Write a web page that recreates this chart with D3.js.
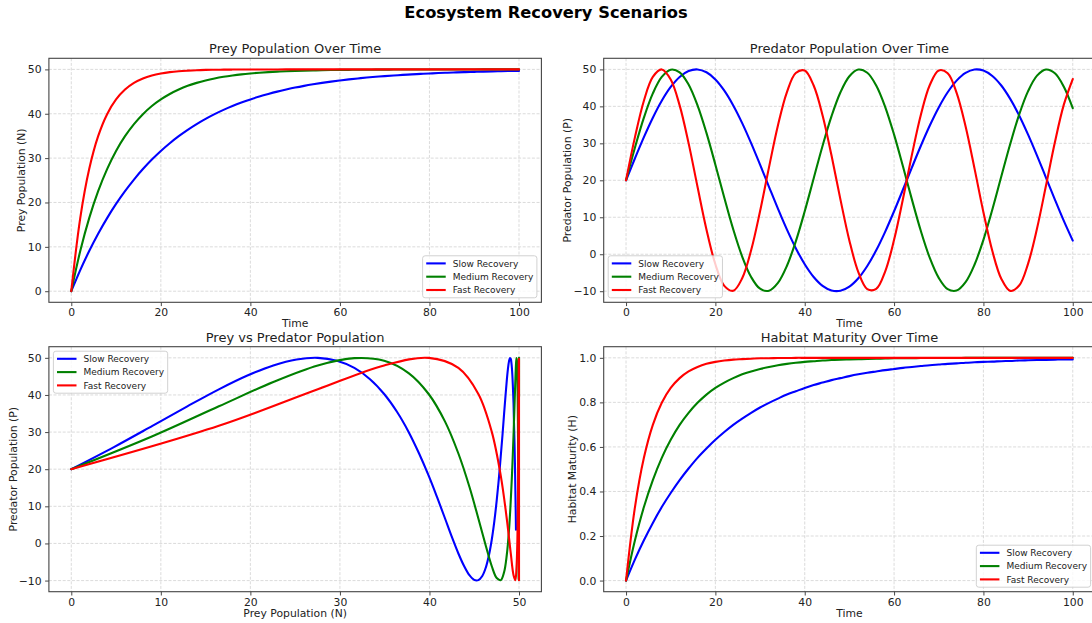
<!DOCTYPE html>
<html>
<head>
<meta charset="utf-8">
<script src="https://cdn.jsdelivr.net/npm/d3@7"></script>
<style>
  body { margin: 0; background: #ffffff; }
  svg { display: block; font-family: "DejaVu Sans", sans-serif; }
</style>
</head>
<body>
<svg id="chart" width="1092" height="623"></svg>
<script>
// ---- data -----------------------------------------------------------
const scenarios = ["Slow Recovery", "Medium Recovery", "Fast Recovery"];
const scenarioColors = ["#0000ff", "#008000", "#ff0000"];

const timeSteps = [0, 2, 4, 6, 8, 10, 12, 14, 16, 18, 20, 22, 24, 26, 28, 30, 32, 34, 36, 38, 40,
  42, 44, 46, 48, 50, 52, 54, 56, 58, 60, 62, 64, 66, 68, 70, 72, 74, 76, 78, 80,
  82, 84, 86, 88, 90, 92, 94, 96, 98, 100];

// prey population N
const preySlow = [0, 4.76, 9.06, 12.96, 16.48, 19.67, 22.56, 25.17, 27.53, 29.67, 31.61, 33.36, 34.94,
  36.37, 37.67, 38.84, 39.91, 40.87, 41.74, 42.52, 43.23, 43.88, 44.46, 44.99, 45.46, 45.90, 46.29,
  46.64, 46.96, 47.25, 47.51, 47.75, 47.96, 48.16, 48.33, 48.49, 48.63, 48.76, 48.88, 48.99, 49.08,
  49.17, 49.25, 49.32, 49.39, 49.44, 49.50, 49.55, 49.59, 49.63, 49.66];
const preyMedium = [0, 9.06, 16.48, 22.56, 27.53, 31.61, 34.94, 37.67, 39.91, 41.74, 43.23, 44.46, 45.46,
  46.29, 46.96, 47.51, 47.96, 48.33, 48.63, 48.88, 49.08, 49.25, 49.39, 49.50, 49.59, 49.66, 49.72,
  49.77, 49.82, 49.85, 49.88, 49.90, 49.92, 49.93, 49.94, 49.95, 49.96, 49.97, 49.98, 49.98, 49.98,
  49.99, 49.99, 49.99, 49.99, 49.99, 50.00, 50.00, 50.00, 50.00, 50.00];
const preyFast = [0, 16.48, 27.53, 34.94, 39.91, 43.23, 45.46, 46.96, 47.96, 48.63, 49.08, 49.39, 49.59,
  49.72, 49.82, 49.88, 49.92, 49.94, 49.96, 49.97, 49.98, 49.99, 49.99, 49.99, 50.00, 50.00, 50.00,
  50.00, 50.00, 50.00, 50.00, 50.00, 50.00, 50.00, 50.00, 50.00, 50.00, 50.00, 50.00, 50.00, 50.00,
  50.00, 50.00, 50.00, 50.00, 50.00, 50.00, 50.00, 50.00, 50.00, 50.00];

// predator population P
const predatorSlow = [20, 25.96, 31.68, 36.94, 41.52, 45.24, 47.96, 49.56, 49.99, 49.22, 47.28, 44.25,
  40.26, 35.47, 30.05, 24.23, 18.25, 12.33, 6.72, 1.64, -2.70, -6.15, -8.55, -9.81, -9.88, -8.77,
  -6.50, -3.18, 1.06, 6.06, 11.62, 17.51, 23.50, 29.35, 34.82, 39.71, 43.81, 46.96, 49.04, 49.96,
  49.68, 48.22, 45.64, 42.03, 37.55, 32.36, 26.69, 20.74, 14.77, 9.01, 3.68];
const predatorMedium = [20, 28.87, 36.94, 43.50, 47.96, 49.92, 49.22, 45.90, 40.26, 32.82, 24.23, 15.27,
  6.72, -0.63, -6.15, -9.33, -9.88, -7.77, -3.18, 3.48, 11.62, 20.50, 29.35, 37.35, 43.81, 48.14,
  49.96, 49.10, 45.64, 39.89, 32.36, 23.73, 14.77, 6.27, -1.00, -6.39, -9.44, -9.84, -7.57, -2.85,
  3.90, 12.10, 21.01, 29.81, 37.76, 44.11, 48.31, 49.98, 48.97, 45.32, 39.51];
const predatorFast = [20, 31.68, 41.52, 47.96, 49.99, 47.28, 40.26, 30.05, 18.25, 6.72, -2.70, -8.55,
  -9.88, -6.50, 1.06, 11.62, 23.50, 34.82, 43.81, 49.04, 49.68, 45.64, 37.55, 26.69, 14.77, 3.68,
  -4.83, -9.44, -9.38, -4.69, 3.90, 15.03, 26.94, 37.76, 45.77, 49.72, 48.97, 43.65, 34.59, 23.23,
  11.36, 0.86, -6.63, -9.91, -8.47, -2.53, 6.96, 18.51, 30.30, 40.46, 47.39];

// habitat maturity H
const habitatSlow = [0, 0.095, 0.181, 0.259, 0.330, 0.393, 0.451, 0.503, 0.551, 0.593, 0.632, 0.667,
  0.699, 0.727, 0.753, 0.777, 0.798, 0.817, 0.835, 0.850, 0.865, 0.878, 0.889, 0.900, 0.909, 0.918,
  0.926, 0.933, 0.939, 0.945, 0.950, 0.955, 0.959, 0.963, 0.967, 0.970, 0.973, 0.975, 0.978, 0.980,
  0.982, 0.983, 0.985, 0.986, 0.988, 0.989, 0.990, 0.991, 0.992, 0.993, 0.993];
const habitatMedium = [0, 0.181, 0.330, 0.451, 0.551, 0.632, 0.699, 0.753, 0.798, 0.835, 0.865, 0.889,
  0.909, 0.926, 0.939, 0.950, 0.959, 0.967, 0.973, 0.978, 0.982, 0.985, 0.988, 0.990, 0.992, 0.993,
  0.994, 0.995, 0.996, 0.997, 0.998, 0.998, 0.998, 0.999, 0.999, 0.999, 0.999, 0.999, 1.000, 1.000,
  1.000, 1.000, 1.000, 1.000, 1.000, 1.000, 1.000, 1.000, 1.000, 1.000, 1.000];
const habitatFast = [0, 0.330, 0.551, 0.699, 0.798, 0.865, 0.909, 0.939, 0.959, 0.973, 0.982, 0.988,
  0.992, 0.994, 0.996, 0.998, 0.998, 0.999, 0.999, 1.000, 1.000, 1.000, 1.000, 1.000, 1.000, 1.000,
  1.000, 1.000, 1.000, 1.000, 1.000, 1.000, 1.000, 1.000, 1.000, 1.000, 1.000, 1.000, 1.000, 1.000,
  1.000, 1.000, 1.000, 1.000, 1.000, 1.000, 1.000, 1.000, 1.000, 1.000, 1.000];

// tick labels
const timeTicks = [0, 20, 40, 60, 80, 100];
const preyTicks = [0, 10, 20, 30, 40, 50];
const predatorTicks = [-10, 0, 10, 20, 30, 40, 50];
const habitatTicks = [0.0, 0.2, 0.4, 0.6, 0.8, 1.0];

// ---- figure ---------------------------------------------------------
const prey = [preySlow, preyMedium, preyFast];
const predator = [predatorSlow, predatorMedium, predatorFast];
const habitat = [habitatSlow, habitatMedium, habitatFast];

const svg = d3.select("#chart");
const FONT_TICK = 10.8, FONT_LABEL = 10.8, FONT_TITLE = 13, FONT_LEGEND = 9;

svg.append("text")
  .attr("x", 546).attr("y", 17.5)
  .attr("text-anchor", "middle")
  .style("font-size", "16.3px").style("font-weight", "bold").attr("fill", "#000")
  .text("Ecosystem Recovery Scenarios");

const panels = [
  {
    box: { left: 48.9, top: 58.3, right: 541.4, bottom: 302.3 }, titleGap: 5.8,
    xDomain: [-5, 105], yDomain: [-2.5, 52.5],
    xTicks: timeTicks, yTicks: preyTicks, yFmt: d3.format("d"),
    title: "Prey Population Over Time", xLabel: "Time", yLabel: "Prey Population (N)", yLabelX: 21,
    legend: "lower right",
    series: scenarios.map((s, i) => ({ xs: timeSteps, ys: prey[i] }))
  },
  {
    box: { left: 603.7, top: 58.3, right: 1095.1, bottom: 302.3 }, titleGap: 5.8,
    xDomain: [-5, 105], yDomain: [-13, 53],
    xTicks: timeTicks, yTicks: predatorTicks, yFmt: d3.format("d"),
    title: "Predator Population Over Time", xLabel: "Time", yLabel: "Predator Population (P)", yLabelX: 567.6,
    legend: "lower left",
    series: scenarios.map((s, i) => ({ xs: timeSteps, ys: predator[i] }))
  },
  {
    box: { left: 48.9, top: 346.7, right: 541.4, bottom: 591.7 }, titleGap: 4.5,
    xDomain: [-2.5, 52.5], yDomain: [-13, 53],
    xTicks: preyTicks, yTicks: predatorTicks, yFmt: d3.format("d"),
    title: "Prey vs Predator Population", xLabel: "Prey Population (N)", yLabel: "Predator Population (P)", yLabelX: 13.5,
    legend: "upper left",
    series: scenarios.map((s, i) => ({ xs: prey[i], ys: predator[i] }))
  },
  {
    box: { left: 603.7, top: 346.7, right: 1095.1, bottom: 591.7 }, titleGap: 4.5,
    xDomain: [-5, 105], yDomain: [-0.05, 1.05],
    xTicks: timeTicks, yTicks: habitatTicks, yFmt: d3.format(".1f"),
    title: "Habitat Maturity Over Time", xLabel: "Time", yLabel: "Habitat Maturity (H)", yLabelX: 572.5,
    legend: "lower right",
    series: scenarios.map((s, i) => ({ xs: timeSteps, ys: habitat[i] }))
  }
];

const defs = svg.append("defs");

panels.forEach((p, pi) => {
  const b = p.box;
  const x = d3.scaleLinear().domain(p.xDomain).range([b.left, b.right]);
  const y = d3.scaleLinear().domain(p.yDomain).range([b.bottom, b.top]);
  const g = svg.append("g");

  defs.append("clipPath").attr("id", "clip" + pi)
    .append("rect").attr("x", b.left).attr("y", b.top)
    .attr("width", b.right - b.left).attr("height", b.bottom - b.top);

  // grid
  const grid = g.append("g").attr("stroke", "#c4c4c4").attr("stroke-width", 0.8)
    .attr("stroke-dasharray", "3,1.6").attr("opacity", 0.75);
  grid.selectAll(".gx").data(p.xTicks).join("line")
    .attr("x1", d => x(d)).attr("x2", d => x(d)).attr("y1", b.top).attr("y2", b.bottom);
  grid.selectAll(".gy").data(p.yTicks).join("line")
    .attr("y1", d => y(d)).attr("y2", d => y(d)).attr("x1", b.left).attr("x2", b.right);

  // series
  const lines = g.append("g").attr("clip-path", `url(#clip${pi})`);
  p.series.forEach((s, i) => {
    const pts = s.xs.map((v, k) => [v, s.ys[k]]);
    const line = d3.line().x(d => x(d[0])).y(d => y(d[1])).curve(d3.curveCatmullRom.alpha(0.5));
    lines.append("path").attr("d", line(pts))
      .attr("fill", "none").attr("stroke", scenarioColors[i])
      .attr("stroke-width", 2.1).attr("stroke-linejoin", "round").attr("stroke-linecap", "round");
  });

  // axes
  const xAxis = d3.axisBottom(x).tickValues(p.xTicks).tickFormat(d3.format("d"))
    .tickSizeInner(3.8).tickSizeOuter(0).tickPadding(2.6);
  const yAxis = d3.axisLeft(y).tickValues(p.yTicks).tickFormat(p.yFmt)
    .tickSizeInner(3.8).tickSizeOuter(0).tickPadding(3.6);
  const gx = g.append("g").attr("transform", `translate(0,${b.bottom})`).call(xAxis);
  const gy = g.append("g").attr("transform", `translate(${b.left},0)`).call(yAxis);
  [gx, gy].forEach(ax => {
    ax.select(".domain").remove();
    ax.selectAll(".tick line").attr("stroke", "#333").attr("stroke-width", 0.9);
    ax.selectAll(".tick text").attr("fill", "#222").style("font-size", FONT_TICK + "px")
      .style("font-family", "'DejaVu Sans', sans-serif");
  });

  // frame
  g.append("rect").attr("x", b.left).attr("y", b.top)
    .attr("width", b.right - b.left).attr("height", b.bottom - b.top)
    .attr("fill", "none").attr("stroke", "#444").attr("stroke-width", 1.1);

  // title and labels
  const cx = (b.left + b.right) / 2;
  g.append("text").attr("x", cx).attr("y", b.top - p.titleGap).attr("text-anchor", "middle")
    .style("font-size", FONT_TITLE + "px").attr("fill", "#222").text(p.title);
  g.append("text").attr("x", cx).attr("y", b.bottom + 25.1).attr("text-anchor", "middle")
    .style("font-size", FONT_LABEL + "px").attr("fill", "#222").text(p.xLabel);
  g.append("text")
    .attr("transform", `translate(${p.yLabelX},${(b.top + b.bottom) / 2}) rotate(-90)`)
    .attr("dy", "0.35em").attr("text-anchor", "middle")
    .style("font-size", FONT_LABEL + "px").attr("fill", "#222").text(p.yLabel);

  // legend
  const pad = 3.6, handle = 19.5, gap = 7, rowH = 13.3, axPad = 4.5;
  const lg = g.append("g");
  const labels = lg.selectAll("text.lbl").data(scenarios).join("text")
    .attr("class", "lbl").style("font-size", FONT_LEGEND + "px").attr("fill", "#222").text(d => d);
  let maxW = 0;
  labels.each(function () { maxW = Math.max(maxW, this.getComputedTextLength()); });
  const w = pad + handle + gap + maxW + pad;
  const h = 2 * 7.6 + rowH * (scenarios.length - 1) + 0.2;
  const lx = p.legend.includes("right") ? b.right - axPad - w : b.left + axPad;
  const ly = p.legend.includes("lower") ? b.bottom - axPad - h : b.top + axPad;
  lg.insert("rect", "text").attr("x", lx).attr("y", ly).attr("width", w).attr("height", h)
    .attr("rx", 2.5).attr("fill", "#fff").attr("fill-opacity", 0.8)
    .attr("stroke", "#cccccc").attr("stroke-width", 0.9);
  scenarios.forEach((s, i) => {
    const ry = ly + 7.6 + i * rowH;
    lg.append("line").attr("x1", lx + pad).attr("x2", lx + pad + handle)
      .attr("y1", ry).attr("y2", ry).attr("stroke", scenarioColors[i]).attr("stroke-width", 2.1);
  });
  labels.attr("x", lx + pad + handle + gap).attr("y", (d, i) => ly + 7.6 + i * rowH).attr("dy", "0.35em");
});
</script>
</body>
</html>
